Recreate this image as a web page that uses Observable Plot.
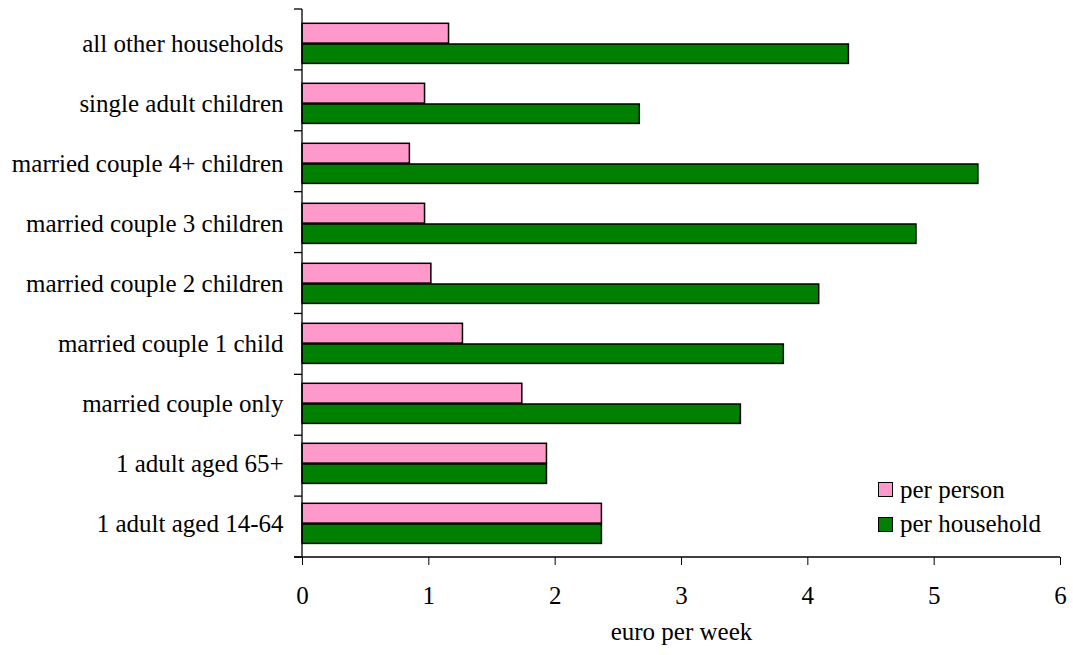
<!DOCTYPE html>
<html><head><meta charset="utf-8">
<script src="https://cdn.jsdelivr.net/npm/d3@7"></script>
<script src="https://cdn.jsdelivr.net/npm/@observablehq/plot@0.6"></script>
<style>
body{margin:0;background:#fff;font-family:'Liberation Serif',serif;}
#wrap{position:relative;width:1073px;height:655px;}
.sw{position:absolute;width:13px;height:13px;border:1px solid #000;}
.lt{position:absolute;font-family:'Liberation Serif',serif;font-size:25px;line-height:25px;white-space:nowrap;color:#000;}
svg text{font-family:'Liberation Serif',serif;}
</style></head>
<body>
<div id="wrap"></div>
<script>
const categories = ["all other households", "single adult children", "married couple 4+ children", "married couple 3 children", "married couple 2 children", "married couple 1 child", "married couple only", "1 adult aged 65+", "1 adult aged 14-64"];
const perPerson    = [1.16, 0.97, 0.85, 0.97, 1.02, 1.27, 1.74, 1.935, 2.37];
const perHousehold = [4.325, 2.67, 5.35, 4.86, 4.09, 3.81, 3.47, 1.935, 2.37];
const xTicks = [0, 1, 2, 3, 4, 5, 6];
const seriesNames = ["per person", "per household"];
const seriesColors = ["#ff99cc", "#008000"];

const ppData = categories.map((c, i) => ({category: c, value: perPerson[i]}));
const phData = categories.map((c, i) => ({category: c, value: perHousehold[i]}));

const plot = Plot.plot({
  width: 1073, height: 655,
  marginLeft: 302, marginRight: 13, marginTop: 9, marginBottom: 98,
  style: {fontFamily: "'Liberation Serif', serif", fontSize: "25px", color: "#000", background: "#fff", overflow: "visible"},
  x: {domain: [0, 6], ticks: xTicks, tickFormat: d => String(d), tickSize: 8, tickPadding: 21, label: null},
  y: {domain: categories, padding: 0, tickSize: 0, tickPadding: 19, label: null},
  marks: [
    Plot.barX(ppData, {x: "value", y: "category", fill: seriesColors[0], stroke: "#000", strokeWidth: 1.5, insetTop: 10.3, insetBottom: 29.9}),
    Plot.barX(phData, {x: "value", y: "category", fill: seriesColors[1], stroke: "#000", strokeWidth: 1.5, insetTop: 31, insetBottom: 9.6}),
    Plot.text(["euro per week"], {frameAnchor: "bottom", dy: 82, fontSize: 25, fill: "#000"})
  ]
});

// axis lines and category boundary ticks, derived from the scales
const xs = plot.scale("x"), ys = plot.scale("y");
const [r0, r1] = ys.range;
const step = (r1 - r0) / categories.length;
const x0 = xs.apply(0), x6 = xs.apply(6);
const g = d3.select(plot).append("g").attr("stroke", "#000").attr("stroke-width", 1.3);
g.append("line").attr("x1", x0).attr("x2", x0).attr("y1", r0).attr("y2", r1);
g.append("line").attr("x1", x0 - 8).attr("x2", x6).attr("y1", r1).attr("y2", r1);
for (let i = 0; i <= categories.length; i++) {
  const y = r0 + i * step;
  g.append("line").attr("x1", x0 - 8).attr("x2", x0).attr("y1", y).attr("y2", y);
}

const wrap = document.getElementById("wrap");
wrap.appendChild(plot);
plot.style.position = "absolute"; plot.style.left = "0"; plot.style.top = "0";

// legend
seriesNames.forEach((name, i) => {
  const sw = document.createElement("div");
  sw.className = "sw";
  sw.style.left = "878px"; sw.style.top = (482 + i * 35) + "px";
  sw.style.background = seriesColors[i];
  wrap.appendChild(sw);
  const t = document.createElement("div");
  t.className = "lt";
  t.style.left = "900px"; t.style.top = (477 + i * 34) + "px";
  t.textContent = name;
  wrap.appendChild(t);
});
</script>
</body></html>
